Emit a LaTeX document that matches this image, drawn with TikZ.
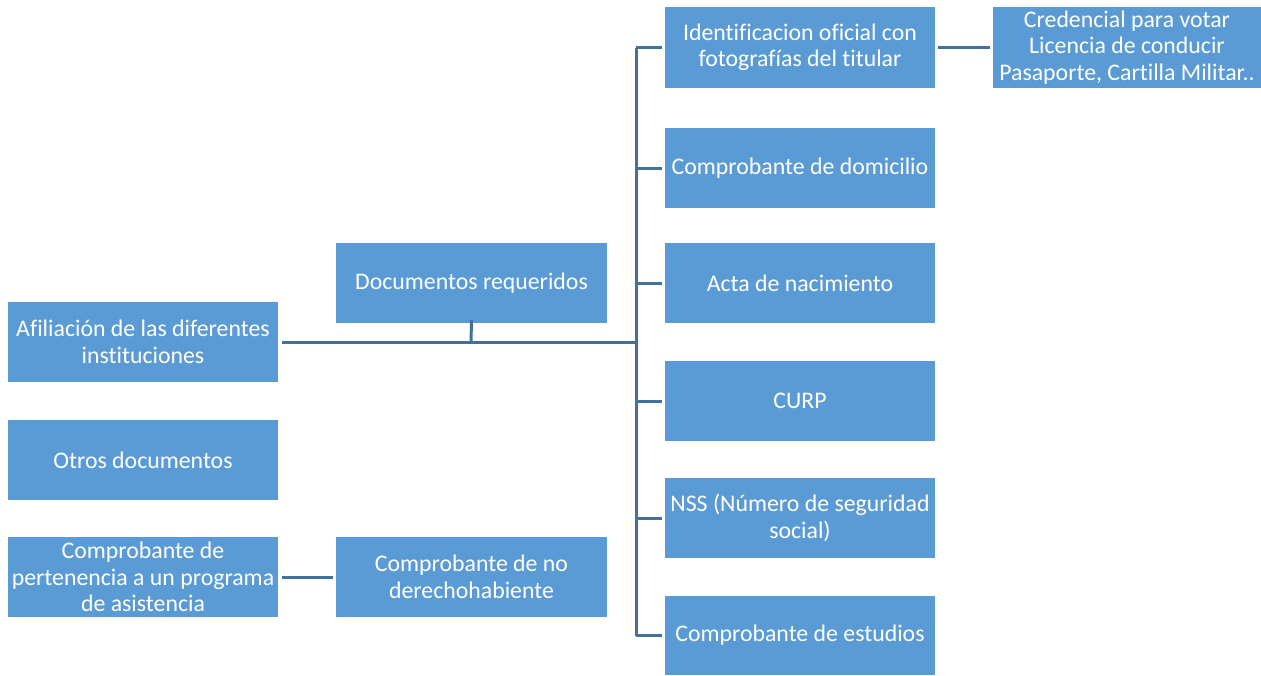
\documentclass[tikz,border=0pt]{standalone}
\usepackage{fontspec}
\setmainfont[Ligatures=NoCommon]{Carlito}
\definecolor{boxfill}{HTML}{5B9BD5}
\definecolor{linec}{HTML}{41719C}
\begin{document}
\begin{tikzpicture}[x=1pt,y=-1pt,
  box/.style={fill=boxfill,draw=none,text=white,align=center,
    font=\fontsize{23.8}{26.5}\selectfont,inner sep=0pt},
  conn/.style={draw=linec,line width=3pt}]
\useasboundingbox (0,0) rectangle (1261,675);
\newcommand{\bx}[6]{\node[box,minimum width=#4-#2,minimum height=#5-#3] (#1) at ({(#2+#4)/2},{(#3+#5)/2}) {#6};}
\bx{afil}{8}{302}{278}{382}{Afiliación de las diferentes\\instituciones}
\bx{otros}{8}{420}{278}{500}{Otros documentos}
\bx{pert}{8}{537}{278}{617}{Comprobante de\\pertenencia a un programa\\de asistencia}
\bx{docs}{336}{243}{607}{323}{Documentos requeridos}
\bx{noder}{336}{537}{607}{617}{Comprobante de no\\derechohabiente}
\bx{ident}{665}{7}{935}{88}{Identificacion oficial con\\fotografías del titular}
\bx{domi}{665}{128}{935}{208}{Comprobante de domicilio}
\bx{acta}{665}{243}{935}{323}{Acta de nacimiento}
\bx{curp}{665}{361}{935}{441}{CURP}
\bx{nss}{665}{478}{935}{558}{NSS (Número de seguridad\\social)}
\bx{estu}{665}{596}{935}{675}{Comprobante de estudios}
\bx{cred}{993}{7}{1261}{88}{Credencial para votar\\Licencia de conducir\\Pasaporte, Cartilla Militar..}
\coordinate (hl) at (282,342);
\coordinate (hr) at (636,342);
\coordinate (tick) at (471,342);
\draw[conn] ([xshift=4pt]afil.east|-hl) -- (hr);
\draw[conn] ([yshift=3pt]docs.south) -- (tick);
\draw[conn] (636,48) -- (636,636);
\foreach \n in {ident,domi,acta,curp,nss,estu}{
  \draw[conn] (636,0|-\n.west) -- ([xshift=-3pt]\n.west);
}
\draw[conn] ([xshift=3pt]ident.east) -- ([xshift=-3pt]cred.west);
\draw[conn] ([xshift=4pt]pert.east) -- ([xshift=-3pt]noder.west);
\end{tikzpicture}
\end{document}
